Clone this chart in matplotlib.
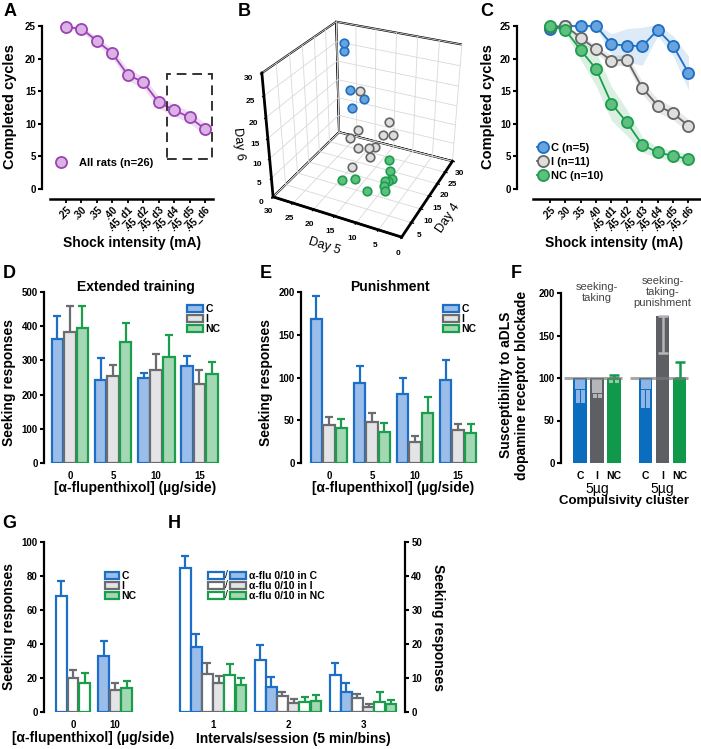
import matplotlib
matplotlib.use('Agg')
import matplotlib.pyplot as plt
import numpy as np
from matplotlib.lines import Line2D
from matplotlib.patches import Patch, Rectangle
from matplotlib.legend_handler import HandlerBase
from matplotlib.text import Text

plt.rcParams['font.family'] = ['Liberation Sans', 'DejaVu Sans']
plt.rcParams['font.weight'] = 'bold'
plt.rcParams['axes.linewidth'] = 1.5
plt.rcParams['grid.color'] = '#d9d9d9'
plt.rcParams['grid.linewidth'] = 0.6

# ---------------- data ----------------
shock_labels = ['.25', '.30', '.35', '.40', '.45_d1', '.45_d2', '.45_d3', '.45_d4', '.45_d5', '.45_d6']
all_mean = [24.8, 24.6, 22.7, 20.8, 17.5, 16.4, 13.3, 12.1, 11.0, 9.2]
all_sem = [0.3, 0.4, 0.6, 0.7, 0.9, 0.9, 0.9, 0.9, 0.9, 0.9]

c_mean = [24.5, 25.0, 25.0, 25.0, 22.2, 22.0, 21.9, 24.4, 22.0, 17.8]
c_sem = [0.4, 0.2, 0.2, 0.3, 1.6, 2.6, 2.9, 0.9, 1.5, 2.6]
i_mean = [24.9, 25.0, 23.2, 21.4, 19.7, 19.8, 15.5, 12.8, 11.6, 9.7]
i_sem = [0.2, 0.2, 0.5, 0.6, 0.8, 0.8, 1.0, 1.0, 1.0, 1.0]
nc_mean = [25.0, 24.4, 21.3, 18.4, 13.1, 10.2, 6.8, 5.6, 5.1, 4.6]
nc_sem = [0.2, 0.5, 1.5, 2.6, 2.6, 2.0, 1.2, 0.8, 0.8, 0.8]

# panel B: individual rats (Day 5, Day 4, Day 6)
b_c_day5 = [27, 27, 24, 20, 22]
b_c_day4 = [28, 28, 25, 24, 22]
b_c_day6 = [26, 24, 16, 15, 13]
b_i_day5 = [20, 12, 18, 18, 13, 11, 16, 14, 13, 13, 15]
b_i_day4 = [22, 20, 17, 13, 19, 20, 13, 14, 15, 12.5, 8]
b_i_day6 = [18, 13, 11, 11, 10, 10, 9, 9, 9, 8, 7.5]
b_nc_day5 = [10, 17, 14, 8, 7, 7.5, 8, 7.5, 7, 11]
b_nc_day4 = [16, 7, 7.5, 12, 11, 10, 9.5, 8, 7.5, 7]
b_nc_day6 = [6, 4, 5, 6, 5, 5, 5, 5, 4, 3]

dose_labels = ['0', '5', '10', '15']
ext_c = [362, 242, 250, 285]
ext_c_sem = [68, 64, 12, 29]
ext_i = [383, 253, 272, 230]
ext_i_sem = [77, 35, 48, 43]
ext_nc = [395, 355, 310, 260]
ext_nc_sem = [65, 53, 65, 36]

pun_c = [168, 93, 81, 97]
pun_c_sem = [27, 20, 18, 24]
pun_i = [45, 48, 25, 39]
pun_i_sem = [9, 10, 6, 7]
pun_nc = [41, 36, 59, 35]
pun_nc_sem = [10, 11, 18, 11]

f_conditions = ['seeking-\ntaking', 'seeking-\ntaking-\npunishment']
f_clusters = ['C', 'I', 'NC']
f_mean = [[87, 82, 99], [87, 173, 100]]
f_err_down = [[16, 6, 5], [22, 44, 0]]
f_err_up = [[0, 0, 3], [0, 0, 19]]
f_ref = 100

g_doses = ['0', '10']
g_c = [68, 33]
g_c_sem = [9, 9]
g_i = [20, 13]
g_i_sem = [5, 4]
g_nc = [17, 14]
g_nc_sem = [6, 4.5]

h_intervals = ['1', '2', '3']
h_c0 = [42.5, 15.3, 10.8]
h_c0_sem = [3.5, 4.3, 3.6]
h_c10 = [19.0, 7.3, 6.0]
h_c10_sem = [4.0, 2.9, 2.6]
h_i0 = [11.3, 4.6, 4.0]
h_i0_sem = [3.2, 1.2, 1.4]
h_i10 = [8.5, 2.6, 1.6]
h_i10_sem = [2.0, 1.2, 0.9]
h_nc0 = [10.8, 2.8, 3.0]
h_nc0_sem = [3.2, 1.7, 2.8]
h_nc10 = [7.8, 3.2, 2.5]
h_nc10_sem = [2.2, 1.8, 1.1]

# ---------------- style ----------------
purple_e, purple_f = '#9a44b3', '#dcb2e6'
blue_e, blue_f = '#1c6fc4', '#9bbde9'
gray_e, gray_f = '#6b6c70', '#e4e4e6'
green_e, green_f = '#1b9e4b', '#a4d8b4'
mk_blue, mk_gray, mk_green = '#68a3de', '#dedede', '#5fbf80'
f_dark = ['#0b6dbd', '#5e5f63', '#10994a']
f_light = ['#8db6e6', '#b5b6b9', '#8fcfa2']

W, H = 701, 749
fig = plt.figure(figsize=(W / 100, H / 100), dpi=100)


def ax_px(x0, y0, x1, y1, **kw):
    return fig.add_axes([x0 / W, 1 - y1 / H, (x1 - x0) / W, (y1 - y0) / H], **kw)


def ftext(x, y, s, **kw):
    kw.setdefault('ha', 'center')
    kw.setdefault('va', 'center')
    return fig.text(x / W, 1 - y / H, s, **kw)


def px2pt(p):
    return p * 0.72


def yaxis_style(ax, bounds, ticks, out=0, side='left'):
    for s in ['top', 'right', 'left', 'bottom']:
        ax.spines[s].set_visible(False)
    sp = ax.spines[side]
    sp.set_visible(True)
    sp.set_linewidth(1.6)
    sp.set_position(('outward', px2pt(out)))
    sp.set_bounds(*bounds)
    ax.set_yticks(ticks)
    ax.tick_params(axis='y', direction='out', length=3, width=1.5, labelsize=7, pad=1.5)


def bars(ax, x, h, err, fc, ec, width):
    ax.errorbar(x, h, yerr=err, fmt='none', ecolor=ec, elinewidth=1.6, capsize=3.2,
                capthick=1.6, zorder=1)
    ax.bar(x, h, width=width, color=fc, edgecolor=ec, linewidth=1.6, zorder=2)


def panel_label(x, y, s):
    ftext(x, y, s, fontsize=13)


# ---------------- panel A ----------------
axA = ax_px(50, 26, 213, 189)
xs = np.arange(len(shock_labels))
m, e = np.array(all_mean), np.array(all_sem)
axA.fill_between(xs, m - e, m + e, color=purple_f, alpha=0.45, lw=0)
axA.plot(xs, m, '-o', color=purple_e, mfc=purple_f, mec=purple_e, ms=8, mew=1.3, lw=1.3,
         clip_on=False, zorder=3)
axA.add_patch(Rectangle((6.55, 4.6), 2.9, 13.0, fill=False, ls=(0, (5, 3)), lw=1.4,
                        ec='#333333', zorder=4))
axA.set_xlim(-1.04, 9.52)
axA.set_ylim(0, 25)
yaxis_style(axA, (0, 25), range(0, 26, 5), out=8)
axA.spines['bottom'].set_visible(True)
axA.spines['bottom'].set_linewidth(1.8)
axA.spines['bottom'].set_position(('outward', px2pt(10)))
axA.set_xticks(xs)
axA.set_xticklabels(shock_labels, rotation=45, ha='right', rotation_mode='anchor')
axA.tick_params(axis='x', direction='out', length=3, width=1.3, labelsize=7, pad=1)
axA.legend(handles=[Line2D([], [], marker='o', ls='none', mfc=purple_f, mec=purple_e, ms=8,
                           mew=1.3)],
           labels=['All rats (n=26)'], loc='center left', bbox_to_anchor=(55 / W, 1 - 163 / H),
           bbox_transform=fig.transFigure, frameon=False, fontsize=8, handlelength=1.0,
           handletextpad=1.2, borderpad=0, borderaxespad=0)
ftext(10, 107, 'Completed cycles', rotation=90, fontsize=10.5)
ftext(132, 243, 'Shock intensity (mA)', fontsize=10)
panel_label(10, 12, 'A')

# ---------------- panel C ----------------
axC = ax_px(533, 26, 700, 189)
axC.fill_between(xs, np.array(c_mean) - c_sem, np.array(c_mean) + c_sem, color=mk_blue,
                 alpha=0.22, lw=0)
axC.fill_between(xs, np.array(i_mean) - i_sem, np.array(i_mean) + i_sem, color='#9a9a9a',
                 alpha=0.22, lw=0)
axC.fill_between(xs, np.array(nc_mean) - nc_sem, np.array(nc_mean) + nc_sem, color=mk_green,
                 alpha=0.22, lw=0)
axC.plot(xs, c_mean, '-o', color=blue_e, mfc=mk_blue, mec=blue_e, ms=8, mew=1.3, lw=1.3,
         clip_on=False, zorder=3, label='C (n=5)')
axC.plot(xs, i_mean, '-o', color='#666666', mfc=mk_gray, mec='#666666', ms=8, mew=1.3, lw=1.3,
         clip_on=False, zorder=3, label='I (n=11)')
axC.plot(xs, nc_mean, '-o', color=green_e, mfc=mk_green, mec=green_e, ms=8, mew=1.3, lw=1.3,
         clip_on=False, zorder=3, label='NC (n=10)')
axC.set_xlim(-1.1, 9.75)
axC.set_ylim(0, 25)
yaxis_style(axC, (0, 25), range(0, 26, 5), out=16)
axC.spines['bottom'].set_visible(True)
axC.spines['bottom'].set_linewidth(1.8)
axC.spines['bottom'].set_position(('outward', px2pt(10)))
axC.set_xticks(xs)
axC.set_xticklabels(shock_labels, rotation=45, ha='right', rotation_mode='anchor')
axC.tick_params(axis='x', direction='out', length=3, width=1.3, labelsize=7, pad=1)
axC.legend(loc='upper left', bbox_to_anchor=(537 / W, 1 - 143 / H),
           bbox_transform=fig.transFigure, frameon=False, fontsize=8, handlelength=1.0,
           handletextpad=0.3, borderpad=0, borderaxespad=0, labelspacing=0.35)
ftext(488, 107, 'Completed cycles', rotation=90, fontsize=10.5)
ftext(614, 243, 'Shock intensity (mA)', fontsize=10)
panel_label(487, 12, 'C')

# ---------------- panel B (3D) ----------------
axB = fig.add_axes([230 / W, 1 - 256 / H, 266 / W, 262 / H], projection='3d')
axB.scatter(b_c_day5, b_c_day4, b_c_day6, s=38, c=mk_blue, edgecolors=blue_e, linewidths=1.2,
            depthshade=False)
axB.scatter(b_i_day5, b_i_day4, b_i_day6, s=38, c=mk_gray, edgecolors='#666666',
            linewidths=1.2, depthshade=False)
axB.scatter(b_nc_day5, b_nc_day4, b_nc_day6, s=38, c=mk_green, edgecolors=green_e,
            linewidths=1.2, depthshade=False)
axB.set_xlim(30, 0)
axB.set_ylim(0, 30)
axB.set_zlim(0, 30)
axB.set_xticks(range(0, 31, 5))
axB.set_yticks(range(5, 31, 5))
axB.set_zticks(range(0, 31, 5))
axB.view_init(elev=30, azim=-64)
axB.set_proj_type('persp', focal_length=0.45)
axB.set_box_aspect((1, 1, 0.98), zoom=0.9)
axB.zaxis.set_ticks_position('lower')
axB.zaxis.set_label_position('lower')
for a in (axB.xaxis, axB.yaxis, axB.zaxis):
    a.set_pane_color((1, 1, 1, 1))
    a.pane.set_edgecolor('black')
    a.pane.set_linewidth(1.5)
    a.line.set_linewidth(2.0)
    a.line.set_color('black')
axB.tick_params(labelsize=6, pad=-2)
axB.set_xlabel('Day 5', fontsize=9, fontweight='normal', labelpad=-6)
axB.set_ylabel('Day 4', fontsize=9, fontweight='normal', labelpad=-6)
axB.set_zlabel('Day 6', fontsize=9, fontweight='normal', labelpad=-7)
panel_label(244, 12, 'B')

# ---------------- panel D ----------------
off3 = np.array([-0.29, 0.0, 0.29])
bw3 = 0.27
axD = ax_px(44, 292, 221, 463)
xd = np.arange(len(dose_labels))
bars(axD, xd + off3[0], ext_c, ext_c_sem, blue_f, blue_e, bw3)
bars(axD, xd + off3[1], ext_i, ext_i_sem, gray_f, gray_e, bw3)
bars(axD, xd + off3[2], ext_nc, ext_nc_sem, green_f, green_e, bw3)
axD.set_xlim(-0.6, 3.5)
axD.set_ylim(0, 500)
yaxis_style(axD, (0, 500), range(0, 501, 100))
axD.set_xticks(xd)
axD.set_xticklabels(dose_labels)
axD.tick_params(axis='x', length=0, labelsize=7, pad=6)
leg_handles = [Patch(fc=blue_f, ec=blue_e, lw=1.6), Patch(fc=gray_f, ec=gray_e, lw=1.6),
               Patch(fc=green_f, ec=green_e, lw=1.6)]
axD.legend(leg_handles, ['C', 'I', 'NC'], loc='upper left', bbox_to_anchor=(187 / W, 1 - 304 / H),
           bbox_transform=fig.transFigure, frameon=False, fontsize=7.5, handlelength=1.5,
           handleheight=0.6, handletextpad=0.25, borderpad=0, borderaxespad=0, labelspacing=0.0)
ftext(136, 287, 'Extended training', fontsize=10)
ftext(9, 383, 'Seeking responses', rotation=90, fontsize=10)
ftext(135, 488, '[\u03b1-flupenthixol] (\u00b5g/side)', fontsize=10)
panel_label(9, 274, 'D')

# ---------------- panel E ----------------
axE = ax_px(301, 292, 480, 463)
bars(axE, xd + off3[0], pun_c, pun_c_sem, blue_f, blue_e, bw3)
bars(axE, xd + off3[1], pun_i, pun_i_sem, gray_f, gray_e, bw3)
bars(axE, xd + off3[2], pun_nc, pun_nc_sem, green_f, green_e, bw3)
axE.set_xlim(-0.65, 3.51)
axE.set_ylim(0, 200)
yaxis_style(axE, (0, 200), range(0, 201, 50))
axE.set_xticks(xd)
axE.set_xticklabels(dose_labels)
axE.tick_params(axis='x', length=0, labelsize=7, pad=6)
axE.legend(leg_handles, ['C', 'I', 'NC'], loc='upper left', bbox_to_anchor=(443 / W, 1 - 304 / H),
           bbox_transform=fig.transFigure, frameon=False, fontsize=7.5, handlelength=1.5,
           handleheight=0.6, handletextpad=0.25, borderpad=0, borderaxespad=0, labelspacing=0.0)
ftext(390, 287, 'Punishment', fontsize=10)
ftext(266, 383, 'Seeking responses', rotation=90, fontsize=10)
ftext(393, 488, '[\u03b1-flupenthixol] (\u00b5g/side)', fontsize=10)
panel_label(266, 274, 'E')

# ---------------- panel F ----------------
axF = ax_px(563, 293, 700, 463)
f_off = np.array([-0.258, 0.0, 0.258])
f_bw = 0.205
tick_pos, tick_lab = [], []
for g in range(len(f_conditions)):
    for k in range(len(f_clusters)):
        x = g + f_off[k]
        mval = f_mean[g][k]
        top = max(f_ref, mval)
        axF.bar(x, top, width=f_bw, color=f_dark[k], lw=0, zorder=2)
        if mval < f_ref:
            axF.bar(x, f_ref - mval - 1, bottom=mval, width=f_bw * 0.75, color=f_light[k],
                    lw=0, zorder=3)
            ed = f_err_down[g][k]
            axF.bar([x - f_bw * 0.19, x + f_bw * 0.19], ed - 1, bottom=mval - ed,
                    width=f_bw * 0.3, color=f_light[k], lw=0, zorder=3)
        elif mval > f_ref:
            axF.errorbar(x, mval, yerr=[[f_err_down[g][k]], [0]], fmt='none',
                         ecolor=f_light[k], elinewidth=1.8, capsize=3.5, capthick=1.8, zorder=3)
        if f_err_up[g][k] > 0:
            axF.errorbar(x, top, yerr=[[0], [f_err_up[g][k]]], fmt='none', ecolor=f_dark[k],
                         elinewidth=1.8, capsize=3.5, capthick=1.8, zorder=3)
        tick_pos.append(x)
        tick_lab.append(f_clusters[k])
    axF.hlines(f_ref, g - 0.5, g + 0.38, color='#7a7a7a', alpha=0.65, lw=2.2, zorder=4)
    axF.text(g, 201, f_conditions[g], ha='center', va='center', fontsize=8,
             fontweight='normal', color='#444444', linespacing=1.15)
    axF.text(g, -0.155, '5\u00b5g', transform=axF.get_xaxis_transform(), ha='center',
             va='center', fontsize=10, fontweight='normal')
axF.set_xlim(-0.52, 1.57)
axF.set_ylim(0, 200)
yaxis_style(axF, (0, 200), range(0, 201, 50), out=2)
axF.set_xticks(tick_pos)
axF.set_xticklabels(tick_lab)
axF.tick_params(axis='x', length=0, labelsize=7.5, pad=6)
ftext(514, 385, 'Susceptibility to aDLS\ndopamine receptor blockade', rotation=90, fontsize=10,
      linespacing=1.25)
ftext(624, 501, 'Compulsivity cluster', fontsize=9.5)
panel_label(516, 274, 'F')

# ---------------- panel G ----------------
axG = ax_px(44, 542, 150, 712)
xg = np.arange(len(g_doses))
g_off = np.array([-0.274, 0.0, 0.274])
g_bw = 0.26
g_face_c = ['white', blue_f]
g_face_i = ['white', gray_f]
g_face_nc = ['white', green_f]
bars(axG, xg + g_off[0], g_c, g_c_sem, g_face_c, blue_e, g_bw)
bars(axG, xg + g_off[1], g_i, g_i_sem, g_face_i, gray_e, g_bw)
bars(axG, xg + g_off[2], g_nc, g_nc_sem, g_face_nc, green_e, g_bw)
axG.set_xlim(-0.69, 1.83)
axG.set_ylim(0, 100)
yaxis_style(axG, (0, 100), range(0, 101, 20))
axG.set_xticks(xg)
axG.set_xticklabels(g_doses)
axG.tick_params(axis='x', length=0, labelsize=7, pad=6)
axG.legend(leg_handles, ['C', 'I', 'NC'], loc='upper left', bbox_to_anchor=(105 / W, 1 - 571 / H),
           bbox_transform=fig.transFigure, frameon=False, fontsize=7.5, handlelength=1.3,
           handleheight=0.6, handletextpad=0.25, borderpad=0, borderaxespad=0, labelspacing=0.0)
ftext(9, 626, 'Seeking responses', rotation=90, fontsize=10)
ftext(93, 738, '[\u03b1-flupenthixol] (\u00b5g/side)', fontsize=10)
panel_label(9, 524, 'G')

# ---------------- panel H ----------------
axH = ax_px(178, 542, 403, 712)
xh = np.arange(len(h_intervals))
h_step = 0.148
h_bw = 0.14
h_series = [(h_c0, h_c0_sem, 'white', blue_e), (h_c10, h_c10_sem, blue_f, blue_e),
            (h_i0, h_i0_sem, 'white', gray_e), (h_i10, h_i10_sem, gray_f, gray_e),
            (h_nc0, h_nc0_sem, 'white', green_e), (h_nc10, h_nc10_sem, green_f, green_e)]
for j, (vals, sems, fc, ec) in enumerate(h_series):
    bars(axH, xh + (j - 2.5) * h_step, vals, sems, fc, ec, h_bw)
axH.set_xlim(-0.467, 2.533)
axH.set_ylim(0, 50)
yaxis_style(axH, (0, 50), range(0, 51, 10), out=2, side='right')
axH.yaxis.tick_right()
axH.set_xticks(xh)
axH.set_xticklabels(h_intervals)
axH.tick_params(axis='x', length=0, labelsize=7, pad=6)


class SlashPair(HandlerBase):
    def create_artists(self, legend, orig_handle, xdescent, ydescent, width, height, fontsize,
                       trans):
        p1, p2 = orig_handle
        w = width * 0.42
        r1 = Rectangle((-xdescent, -ydescent), w, height, fc=p1.get_facecolor(),
                       ec=p1.get_edgecolor(), lw=p1.get_linewidth(), transform=trans)
        r2 = Rectangle((-xdescent + width - w, -ydescent), w, height, fc=p2.get_facecolor(),
                       ec=p2.get_edgecolor(), lw=p2.get_linewidth(), transform=trans)
        t = Text(-xdescent + width / 2, -ydescent + height / 2, '/', ha='center', va='center',
                 fontsize=fontsize, fontweight='normal', transform=trans)
        return [r1, r2, t]


h_handles = [(Patch(fc='white', ec=blue_e, lw=1.6), Patch(fc=blue_f, ec=blue_e, lw=1.6)),
             (Patch(fc='white', ec=gray_e, lw=1.6), Patch(fc=gray_f, ec=gray_e, lw=1.6)),
             (Patch(fc='white', ec=green_e, lw=1.6), Patch(fc=green_f, ec=green_e, lw=1.6))]
axH.legend(h_handles, ['\u03b1-flu 0/10 in C', '\u03b1-flu 0/10 in I', '\u03b1-flu 0/10 in NC'],
           handler_map={tuple: SlashPair()}, loc='upper left',
           bbox_to_anchor=(208 / W, 1 - 571 / H), bbox_transform=fig.transFigure, frameon=False,
           fontsize=7.5, handlelength=3.6, handleheight=0.6, handletextpad=0.35, borderpad=0,
           borderaxespad=0, labelspacing=0.0)
ftext(438, 627, 'Seeking responses', rotation=270, fontsize=10)
ftext(293, 739, 'Intervals/session (5 min/bins)', fontsize=10)
panel_label(174, 524, 'H')

fig.savefig('out.png', dpi=100)
